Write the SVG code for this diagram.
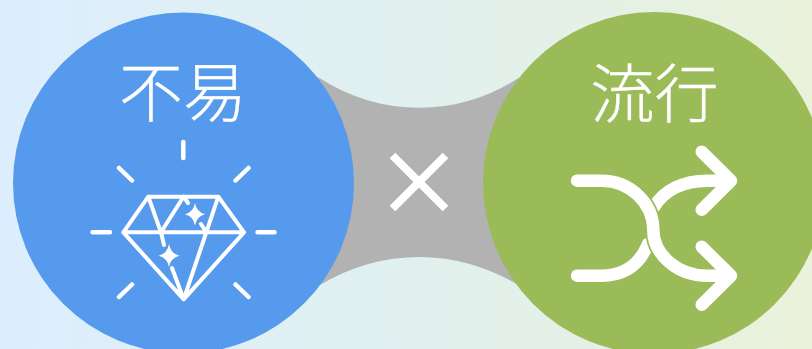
<svg xmlns="http://www.w3.org/2000/svg" width="812" height="349" viewBox="0 0 812 349">
<style>
.t{font-family:"Noto Sans CJK JP","Noto Sans CJK SC",sans-serif;font-size:64px;fill:#fff;stroke:#fff;stroke-width:.4;text-anchor:middle;font-weight:300}
.l{fill:none;stroke:#fff;stroke-linecap:round;stroke-linejoin:round}
.w{stroke-width:12.5}
</style>
<defs><linearGradient id="bg" x1="0" x2="1" y1="0" y2="0"><stop offset="0" stop-color="#dceefe"/><stop offset=".5" stop-color="#e1f0ef"/><stop offset="1" stop-color="#eaf2da"/></linearGradient></defs>
<rect width="812" height="349" fill="url(#bg)"/>
<g id="connectors">
<path id="bridge" d="M300 70 L320 78.300 A181 181 0 0 0 518 78.300 L540 70 L540 295 L518 285 A189 189 0 0 0 320 285 L300 295Z" fill="#b2b2b2"/>
<path id="cross" d="M392.500 155.500 L445.500 208.500 M445.500 155.500 L392.500 208.500" fill="none" stroke="#fff" stroke-width="8"/>
</g>
<g id="node-fueki">
<circle cx="183.500" cy="183" r="170.500" fill="#559aec"/>
<text class="t" x="183" y="116">不易</text>
<g class="l" stroke-width="4">
<path stroke-width="4.500" d="M183.300 142V158M92.500 232.300H110M257.500 232.300H274.500M119 168L132 180.500M248.500 168L235.500 180.500M119 297L132 284.500M248.500 297L235.500 284.500"/>
<path d="M148.300 196.700H218.300L244 232.300L183.700 299.300L123.300 232.300ZM123.300 232.300H244M148.300 196.700L161 232.300L164 245M172 268L183.700 299.300M218.300 196.700L183.700 299.300M183.500 196.700L161 232.300M183.500 196.700L188 203M201 224L206.500 232.300"/>
</g>
<path fill="#fff" d="M195 203Q196.500 212 205 214.300Q196.500 216.500 195 225.500Q193.500 216.500 185 214.300Q193.500 212 195 203ZM169 244Q170.500 253.500 179.500 255.700Q170.500 258 169 267Q167.500 258 158.500 255.700Q167.500 253.500 169 244Z"/>
</g>
<g id="node-ryuko">
<circle cx="654" cy="183" r="171" fill="#9bbb59"/>
<text class="t" x="654.500" y="116.500">流行</text>
<path class="l w" stroke-linecap="butt" d="M654 207C664 190 684 180.700 707 180.700H728"/>
<path class="l w" d="M577 275.700H601C625 275.700 640 264 648 244"/>
<path d="M601.700 180.700C630 180.700 653.300 203 653.300 230C653.300 255 678 275.700 707 275.700" fill="none" stroke="#9bbb59" stroke-width="16"/>
<path class="l w" d="M577 180.700H601.700C630 180.700 653.300 203 653.300 230C653.300 255 678 275.700 707 275.700H728"/>
<path class="l w" d="M701.700 151.700L731 180.700L701.700 209.700M701.700 246.700L731 275.700L701.700 304.700"/>
</g>
</svg>
